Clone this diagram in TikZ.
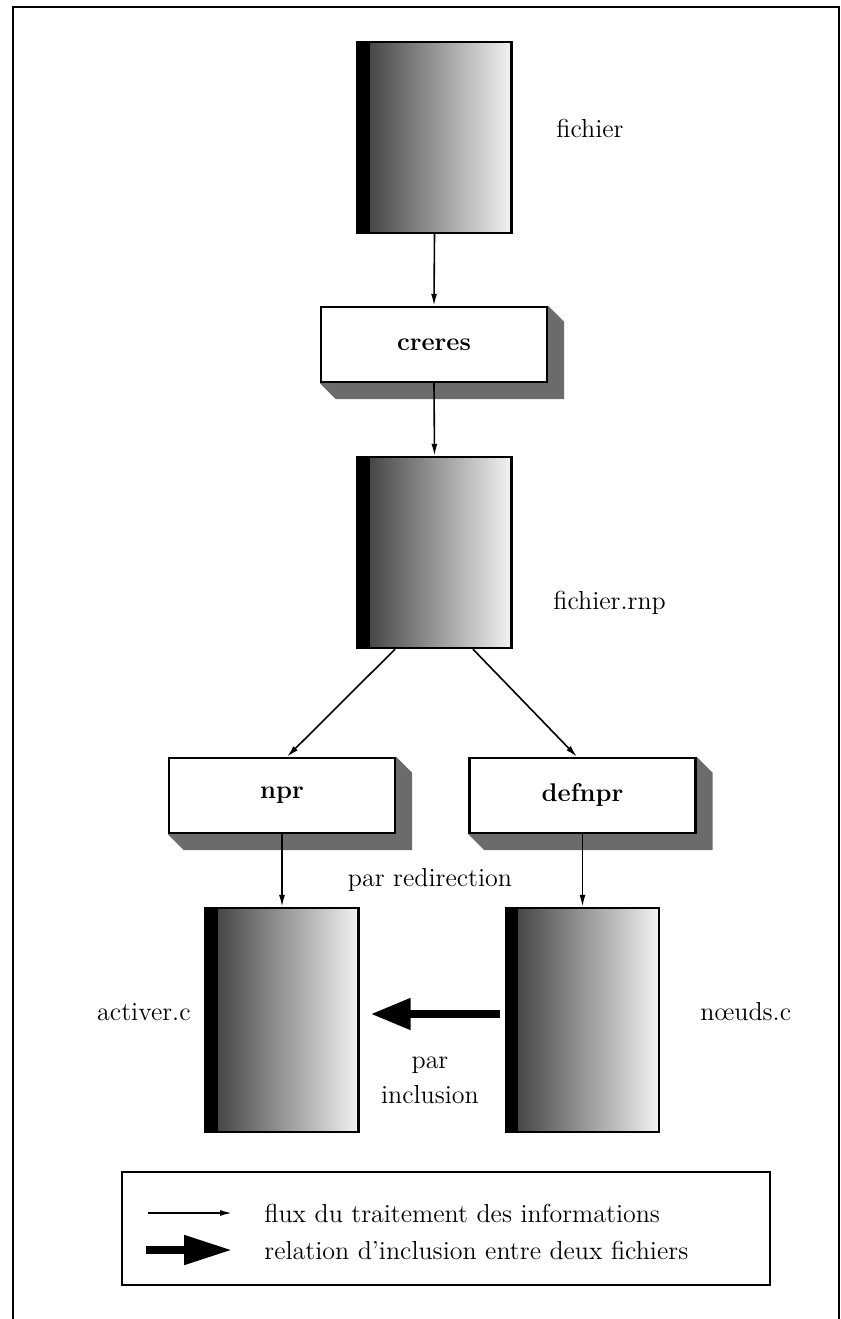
\documentclass[tikz,border=0pt]{standalone}
\usepackage{fontspec}
\usetikzlibrary{arrows.meta,backgrounds}
\tikzset{
  file/.style={draw=black,line width=1.2pt,minimum width=77pt,inner sep=0pt,
    path picture={
      \shade[left color=black!78,right color=black!5]
        (path picture bounding box.south west) rectangle (path picture bounding box.north east);
      \fill[black] (path picture bounding box.south west) rectangle ([xshift=6pt]path picture bounding box.north west);
    }},
  bigfile/.style={file,minimum height=95.5pt},
  lowfile/.style={file,minimum height=112pt,minimum width=76.5pt},
  prog/.style={draw=black,fill=white,line width=1.2pt,minimum width=113pt,minimum height=37.5pt,inner sep=0pt,font=\fontsize{12.8}{15}\selectfont\bfseries},
  lbl/.style={font=\fontsize{13}{15.5}\selectfont,inner sep=0pt},
  flow/.style={line width=0.8pt,-{Latex[length=6pt,width=3pt]}},
  incl/.style={line width=4pt,-{Triangle[length=20pt,width=15pt]}},
  frame/.style={line width=1.4pt},
  shadowfill/.style={fill=black!58},
}
\newcommand{\boxshadow}[1]{%
  \begin{scope}[on background layer]
    \fill[shadowfill] (#1.north east) -- ([xshift=8pt,yshift=-8pt]#1.north east)
      -- ([xshift=8pt,yshift=-8pt]#1.south east) -- ([xshift=8pt,yshift=-8pt]#1.south west)
      -- (#1.south west) -- (#1.south east) -- cycle;
  \end{scope}}
\begin{document}
\begin{tikzpicture}[x=0.5pt,y=-0.5pt]
\useasboundingbox (0,0) rectangle (841,1319);
\draw[frame] (13,1319) -- (13,7) -- (839,7) -- (839,1319);

% files
\node[bigfile] (f1) at (434.5,137.5) {};
\node[lbl,anchor=west] (f1l) at (556,128) {fichier};
\node[bigfile] (f2) at (434.5,552.5) {};
\node[lbl,anchor=west] (f2l) at (553,603) {fichier.rnp};
\node[lowfile] (act) at (282,1020) {};
\node[lbl,anchor=east] (actl) at (191,1012) {activer.c};
\node[lowfile] (noe) at (582.5,1020) {};
\node[lbl,anchor=west] (noel) at (700,1012) {nœuds.c};

% programs
\node[prog] (creres) at (434,344.5) {creres};
\boxshadow{creres}
\node[prog] (npr) at (282,795.5) {npr};
\boxshadow{npr}
\node[prog] (defnpr) at (582.5,795.5) {defnpr};
\boxshadow{defnpr}

% labels
\node[lbl] (redir) at (430,880) {par redirection};
\node[lbl,align=center] (inclus) at (430,1080) {par\\[2pt]inclusion};

% connectors
\draw[flow] (f1.south) -- (creres.north);
\draw[flow] (creres.south) -- (f2.north);
\draw[flow] ([xshift=-19.75pt]f2.south) -- ([xshift=2.5pt]npr.north);
\draw[flow] ([xshift=19.25pt]f2.south) -- ([xshift=-2.75pt]defnpr.north);
\draw[flow] (npr.south) -- (act.north);
\draw[flow] (defnpr.south) -- (noe.north);
\draw[incl] ([xshift=-2.5pt,yshift=3pt]noe.west) -- ([xshift=5.5pt,yshift=3pt]act.east);

% legend
\node[draw=black,line width=1.2pt,minimum width=324pt,minimum height=56.5pt,inner sep=0pt] (leg) at (446,1228.5) {};
\coordinate (la1) at (148,1213);
\coordinate (lb1) at (232,1213);
\coordinate (la2) at (146,1250);
\coordinate (lb2) at (232,1250);
\draw[flow] (la1) -- (lb1);
\draw[line width=4pt,-{Triangle[length=24pt,width=14pt]}] (la2) -- (lb2);
\node[lbl,anchor=west] (lt1) at (264,1213) {flux du traitement des informations};
\node[lbl,anchor=west] (lt2) at (264,1250) {relation d'inclusion entre deux fichiers};
\end{tikzpicture}
\end{document}
